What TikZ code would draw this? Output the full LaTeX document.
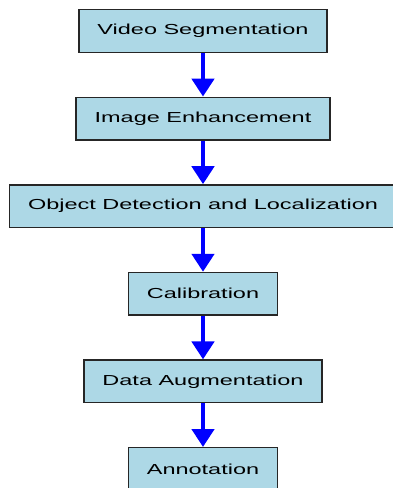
\documentclass[tikz,border=0pt]{standalone}
\usepackage{fontspec}
\setmainfont{Liberation Sans}
\usepackage{graphicx}
\usetikzlibrary{positioning,arrows.meta}
\definecolor{boxblue}{RGB}{173,216,230}
\newcommand{\wide}[1]{\scalebox{1.62}[1]{#1}}

\begin{document}
\begin{tikzpicture}[x=1pt, y=1pt, node distance=43.6pt,
    stage/.style={draw=black!85, line width=1.4pt, fill=boxblue, minimum height=42.6pt,
        inner xsep=18.5pt, font=\fontsize{14.5}{17}\selectfont},
    flow/.style={draw=blue, line width=4.5pt, -{Triangle[width=22pt,length=18pt]}}]
    \useasboundingbox (0,0) rectangle (392,-488);
    \node[stage] (video) at (203,-31) {\wide{Video Segmentation}};
    \node[stage, below=of video] (enhance) {\wide{Image Enhancement}};
    \node[stage, below=of enhance] (detect) {\wide{Object Detection and Localization}};
    \node[stage, below=of detect] (calib) {\wide{Calibration}};
    \node[stage, below=of calib] (augment) {\wide{Data Augmentation}};
    \node[stage, below=of augment] (annot) {\wide{Annotation}};
    \draw[flow] (video) -- (enhance);
    \draw[flow] (enhance) -- (detect);
    \draw[flow] (detect) -- (calib);
    \draw[flow] (calib) -- (augment);
    \draw[flow] (augment) -- (annot);
\end{tikzpicture}
\end{document}
